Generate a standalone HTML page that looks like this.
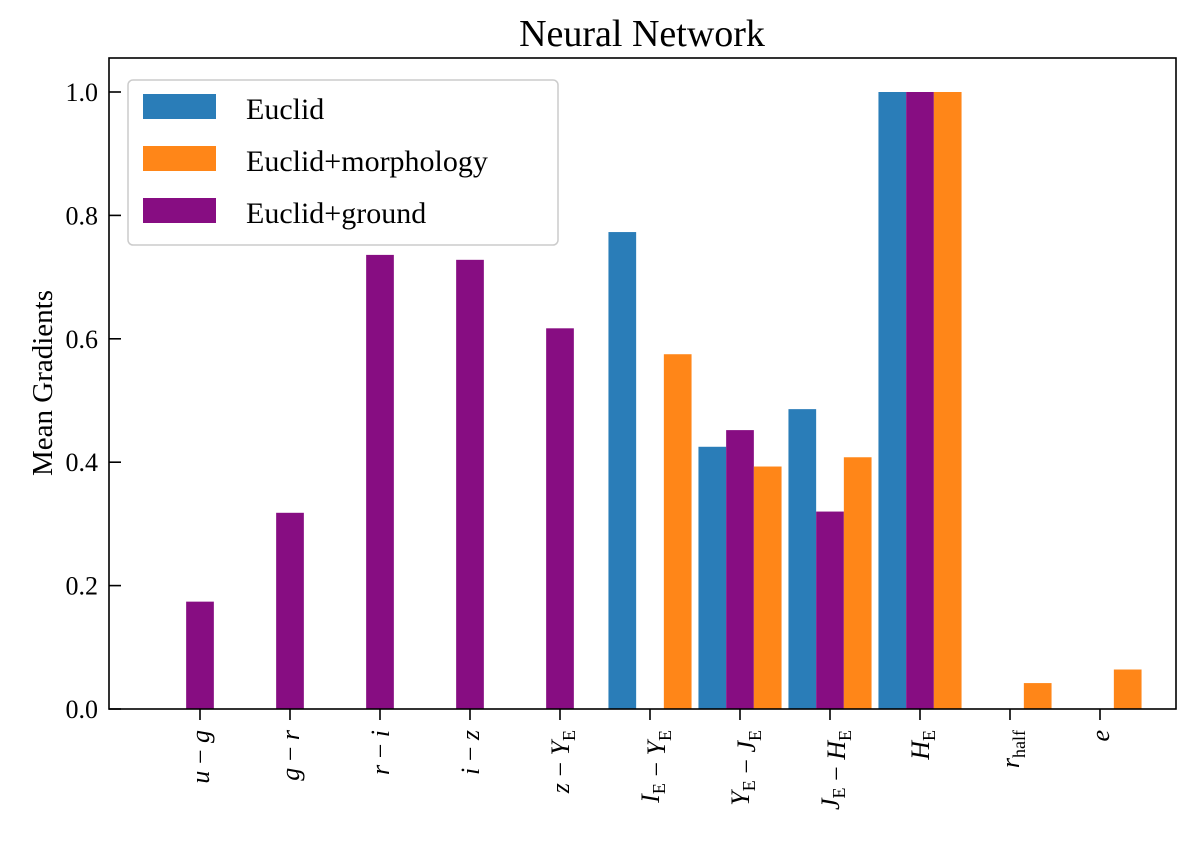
<!DOCTYPE html>
<html><head><meta charset="utf-8"><style>
body{margin:0;background:#fff;}
svg text{font-family:"Liberation Serif","DejaVu Serif",serif;fill:#000;}
</style></head><body>
<svg id="chart" width="1200" height="845" xmlns="http://www.w3.org/2000/svg">
<text x="642" y="46" font-size="38" text-anchor="middle">Neural Network</text>
<text transform="translate(52,383) rotate(-90)" font-size="29" text-anchor="middle">Mean Gradients</text>
<g id="bars"></g>
<g id="yticks"></g>
<g id="xticks"></g>
<rect x="109" y="58" width="1067" height="651" fill="none" stroke="#000" stroke-width="1.6"/>
<g>
<rect x="128" y="80" width="430" height="165" rx="5" fill="#fff" fill-opacity="0.85" stroke="#ccc" stroke-width="1.5"/>
<rect x="143" y="94" width="73" height="25" fill="#2a7db8"/>
<text x="246" y="119" font-size="30">Euclid</text>
<rect x="143" y="146" width="73" height="25" fill="#ff8618"/>
<text x="246" y="171" font-size="30">Euclid+morphology</text>
<rect x="143" y="198" width="73" height="25" fill="#870d82"/>
<text x="246" y="223" font-size="30">Euclid+ground</text>
</g>
</svg>
<script>
const categories = ["u − g","g − r","r − i","i − z","z − Y_E","I_E − Y_E","Y_E − J_E","J_E − H_E","H_E","r_half","e"];
const euclid =     [0,0,0,0,0,0.773,0.425,0.486,1.0,0,0];
const ground =     [0.174,0.318,0.736,0.728,0.617,0,0.452,0.320,1.0,0,0];
const morphology = [0,0,0,0,0,0.575,0.393,0.408,1.0,0.042,0.064];
const yTicks = [0.0,0.2,0.4,0.6,0.8,1.0];

const NS="http://www.w3.org/2000/svg";
const x0=200, step=90, bw=27.7;
function xc(i){return x0+i*step;}
function yv(v){return 709-v*617;}
const bars=document.getElementById('bars');
const series=[[euclid,-1,'#2a7db8','euclid'],[ground,0,'#870d82','ground'],[morphology,1,'#ff8618','morphology']];
series.forEach(s=>{
  s[0].forEach((v,i)=>{
    if(v<=0)return;
    const r=document.createElementNS(NS,'rect');
    r.setAttribute('x',xc(i)+s[1]*bw-bw/2);
    r.setAttribute('y',yv(v));
    r.setAttribute('width',bw);
    r.setAttribute('height',709-yv(v));
    r.setAttribute('fill',s[2]);
    
    
    bars.appendChild(r);
  });
});
const yt=document.getElementById('yticks');
yTicks.forEach(t=>{
  const l=document.createElementNS(NS,'line');
  l.setAttribute('x1',109);l.setAttribute('x2',121);
  l.setAttribute('y1',yv(t));l.setAttribute('y2',yv(t));
  l.setAttribute('stroke','#000');l.setAttribute('stroke-width','1.6');
  
  
  yt.appendChild(l);
  const tx=document.createElementNS(NS,'text');
  tx.setAttribute('x',98);tx.setAttribute('y',yv(t)+9);
  tx.setAttribute('font-size','26');tx.setAttribute('text-anchor','end');
  tx.textContent=t.toFixed(1);
  
  
  yt.appendChild(tx);
});
const xt=document.getElementById('xticks');
categories.forEach((c,i)=>{
  const l=document.createElementNS(NS,'line');
  l.setAttribute('x1',xc(i));l.setAttribute('x2',xc(i));
  l.setAttribute('y1',709);l.setAttribute('y2',720);
  l.setAttribute('stroke','#000');l.setAttribute('stroke-width','1.6');
  
  
  xt.appendChild(l);
  const tx=document.createElementNS(NS,'text');
  tx.setAttribute('transform','translate('+(xc(i)+9)+',730) rotate(-90)');
  tx.setAttribute('font-size','26');tx.setAttribute('text-anchor','end');
  tx.setAttribute('font-style','italic');
  
  
  c.split(/(_E|_half| − )/).forEach(p=>{
    if(!p)return;
    const sp=document.createElementNS(NS,'tspan');
    if(p==='_E'||p==='_half'){
      sp.textContent=p.slice(1);
      sp.setAttribute('font-size','18');sp.setAttribute('font-style','normal');
      sp.setAttribute('dy','6');
      tx.appendChild(sp);
      const back=document.createElementNS(NS,'tspan');
      back.setAttribute('dy','-6');back.textContent='';
      tx.appendChild(back);
    } else if(p===' − '){
      sp.textContent=' − ';sp.setAttribute('font-style','normal');
      tx.appendChild(sp);
    } else {sp.textContent=p;tx.appendChild(sp);}
  });
  xt.appendChild(tx);
});
</script>
</body></html>
